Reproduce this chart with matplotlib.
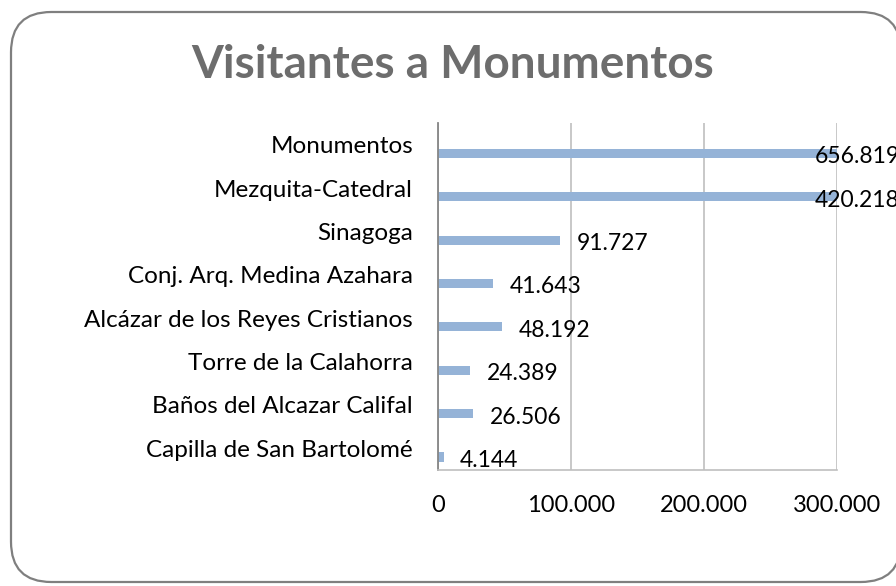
import numpy as np
import matplotlib
matplotlib.use("Agg")
import matplotlib.pyplot as plt
from matplotlib.patches import FancyBboxPatch

plt.rcParams['font.family'] = ['Lato', 'DejaVu Sans']

monumentos = ["Monumentos", "Mezquita-Catedral", "Sinagoga", "Conj. Arq. Medina Azahara",
              "Alcázar de los Reyes Cristianos", "Torre de la Calahorra",
              "Baños del Alcazar Califal", "Capilla de San Bartolomé"]
visitantes = [656819, 420218, 91727, 41643, 48192, 24389, 26506, 4144]
ticks = [0, 100000, 200000, 300000]
tick_labels = ["0", "100.000", "200.000", "300.000"]

def fmt(v):
    return "{:,}".format(v).replace(",", ".")

fig = plt.figure(figsize=(8.96, 5.86), dpi=100)

# rounded frame of the chart area
frame = FancyBboxPatch((11/896, 4/586), 890/896, 570/586,
                       boxstyle="round,pad=0,rounding_size=0.045",
                       transform=fig.transFigure, facecolor="white",
                       edgecolor="#7f7f7f", linewidth=1.6, mutation_aspect=896/586,
                       zorder=-5)
fig.patches.append(frame)

fig.text(453/896, 1 - 65/586, "Visitantes a Monumentos", ha="center", va="center",
         fontsize=33, fontweight="bold", color="#6d6d6d")

ax = fig.add_axes([438/896, (586-470)/586, (837-438)/896, (470-123)/586])
ax.set_facecolor("none")
xmax = 300000
y = np.arange(len(monumentos))
shown = np.minimum(visitantes, xmax)
ax.barh(y + 0.2, shown, height=0.21, color="#95b3d7", zorder=2)

# labels of the bars that run past the axis end are pulled back inside, as in the original
for yi, v, s in zip(y, visitantes, shown):
    if v > xmax:
        ax.annotate(fmt(v), (s, yi + 0.28), xytext=(-16, 0), textcoords="offset points",
                    ha="left", va="center", fontsize=16.5, color="black",
                    annotation_clip=False, zorder=3)
    else:
        ax.annotate(fmt(v), (s, yi + 0.28), xytext=(12, 0), textcoords="offset points",
                    ha="left", va="center", fontsize=16.5, color="black", zorder=3)

ax.set_xlim(0, xmax)
ax.set_ylim(len(monumentos) - 0.5, -0.5)
ax.set_yticks(y)
ax.set_yticklabels(monumentos, fontsize=17.5)
ax.set_xticks(ticks)
ax.set_xticklabels(tick_labels, fontsize=17)
ax.tick_params(axis="y", length=0, pad=18)
ax.tick_params(axis="x", length=0, pad=18)
ax.grid(axis="x", color="#bfbfbf", linewidth=1.2, zorder=0)
for side in ["top", "right"]:
    ax.spines[side].set_visible(False)
ax.spines["left"].set_color("#868686")
ax.spines["left"].set_linewidth(1.3)
ax.spines["bottom"].set_color("#bfbfbf")
ax.spines["bottom"].set_linewidth(1.2)

fig.savefig("out.png", dpi=100)
